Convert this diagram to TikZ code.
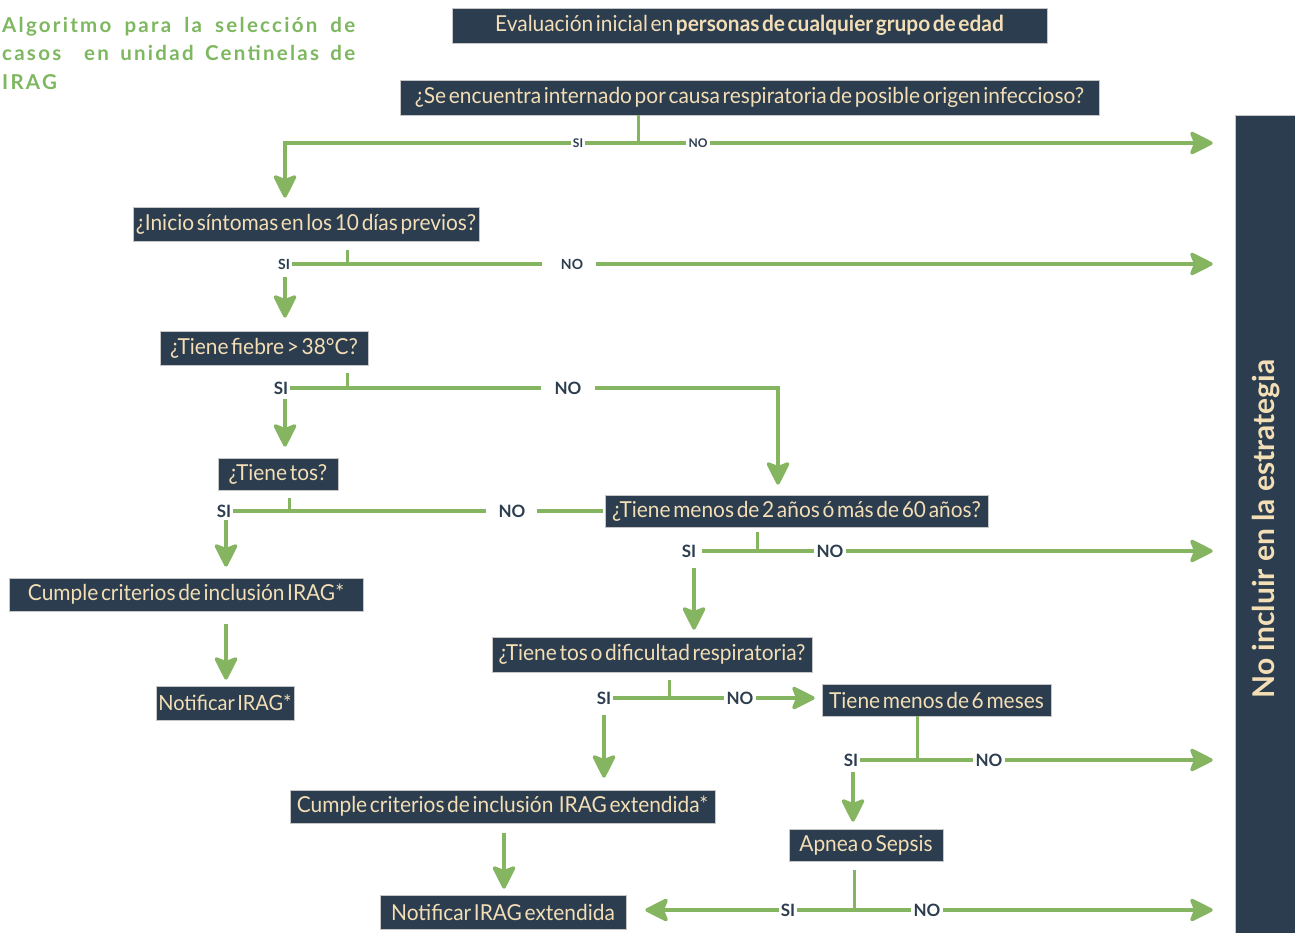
\documentclass[tikz,border=0pt]{standalone}
\usepackage{fontspec}
\setmainfont{Lato}
\newfontfamily\boxfont[FakeStretch=0.95,WordSpace=0.5]{Lato}
\newfontfamily\titlefont[LetterSpace=11,WordSpace=0.7]{Lato}
\usetikzlibrary{arrows.meta}
\definecolor{navy}{RGB}{43,61,78}
\definecolor{cream}{RGB}{243,222,182}
\definecolor{lgreen}{RGB}{134,181,98}
\definecolor{tgreen}{RGB}{125,183,95}
\begin{document}
\begin{tikzpicture}[x=1pt,y=-1pt,
  box/.style={fill=navy, draw=gray!45, line width=0.6pt, text=cream, inner sep=0pt,
    font=\boxfont\fontsize{22}{24}\selectfont},
  lbl/.style={text=navy, inner ysep=1pt, inner xsep=2pt, font=\bfseries\fontsize{17}{19}\selectfont},
  lbls/.style={lbl, font=\bfseries\fontsize{12}{14}\selectfont},
  lblm/.style={lbl, font=\bfseries\fontsize{14}{16}\selectfont},
  ln/.style={draw=lgreen, line width=3.6pt},
  stem/.style={draw=lgreen, line width=3pt},
  arr/.style={ln, -{Stealth[length=26pt,width=26pt,inset=5pt,round]}},
]
\useasboundingbox (0,0) rectangle (1295,933);

% title
\node[anchor=north west, inner sep=0pt, text width=353pt, align=justify, text=tgreen,
  font=\titlefont\bfseries\fontsize{20.5}{28.5}\selectfont] (title) at (2,17)
  {Algoritmo para la selección de\linebreak casos~ en unidad Centinelas de\linebreak IRAG};

% boxes
\node[box, minimum width=595pt, minimum height=35pt] (b0) at (749.5,25.5)
  {Evaluación inicial en \textbf{personas de cualquier grupo de edad}};
\node[box, minimum width=699pt, minimum height=35pt] (q1) at (749.5,97.5)
  {¿Se encuentra internado por causa respiratoria de posible origen infeccioso?};
\node[box, minimum width=346pt, minimum height=34pt] (q2) at (306,224)
  {¿Inicio síntomas en los 10 días previos?};
\node[box, minimum width=208pt, minimum height=34pt] (q3) at (264,348)
  {¿Tiene fiebre > 38°C?};
\node[box, minimum width=120pt, minimum height=32pt] (q4) at (278,474)
  {¿Tiene tos?};
\node[box, minimum width=354pt, minimum height=33pt] (cumple) at (186,594.5)
  {Cumple criterios de inclusión IRAG*};
\node[box, minimum width=138pt, minimum height=34pt, font=\boxfont\fontsize{21}{24}\selectfont] (notif) at (225,703)
  {Notificar IRAG*};
\node[box, minimum width=383pt, minimum height=32pt] (q5) at (796.5,511)
  {¿Tiene menos de 2 años ó más de 60 años?};
\node[box, minimum width=320pt, minimum height=35pt] (q6) at (652,654.5)
  {¿Tiene tos o dificultad respiratoria?};
\node[box, minimum width=229pt, minimum height=32pt] (b6m) at (936.5,700)
  {Tiene menos de 6 meses};
\node[box, minimum width=425pt, minimum height=33pt] (cext) at (502.5,806.5)
  {Cumple criterios de inclusión~ IRAG extendida*};
\node[box, minimum width=246pt, minimum height=34pt] (next) at (503,912)
  {Notificar IRAG extendida};
\node[box, minimum width=154pt, minimum height=32pt] (apnea) at (866,845)
  {Apnea o Sepsis};
\node[box, minimum width=60pt, minimum height=818pt] (bar) at (1265,524) {};
\node[rotate=90, text=cream, inner sep=0pt, font=\bfseries\fontsize{30}{34}\selectfont] (bartext) at (1266,529)
  {No incluir en la estrategia};

% Q1 branch
\coordinate (j1) at (638,143);
\node[lbls] (si1) at (578,143) {SI};
\node[lbls] (no1) at (698,143) {NO};
\draw[stem] (q1.south -| j1) -- (j1);
\draw[ln] (si1.east) -- (no1.west);
\draw[arr, shorten >=9pt] (si1.west) -| (q2.north -| 285,0);
\draw[arr, shorten >=22pt] (no1.east) -- (no1 -| bar.west);

% Q2 branch
\coordinate (j2) at (347,264);
\node[lblm] (si2) at (284,264) {SI};
\node[lblm] (no2) at (572,264) {NO};
\draw[stem, shorten <=9pt] (q2.south -| j2) -- (j2);
\draw[ln, shorten >=17pt] (si2.east) -- (no2.west);
\draw[arr, shorten <=11pt, shorten >=22pt] (no2.east) -- (no2 -| bar.west);
\draw[arr, shorten <=0pt, shorten >=13pt] ([yshift=-7pt]si2.south -| 285,0) -- (q3.north -| 285,0);

% Q3 branch
\coordinate (j3) at (347,388);
\node[lbl] (si3) at (281,388) {SI};
\node[lbl] (no3) at (568,388) {NO};
\draw[stem, shorten <=8pt] (q3.south -| j3) -- (j3);
\draw[ln, shorten >=11pt] (si3.east) -- (no3.west);
\draw[arr, shorten <=11pt, shorten >=10pt] (no3.east) -| (q5.north -| 778,0);
\draw[arr, shorten >=11pt] ([yshift=-4pt]si3.south -| 285,0) -- (q4.north -| 285,0);

% Q4 branch
\coordinate (j4) at (289,511);
\node[lbl] (si4) at (224,511) {SI};
\node[lbl] (no4) at (512,511) {NO};
\draw[stem, shorten <=8pt] (q4.south -| j4) -- (j4);
\draw[ln, shorten >=10pt] (si4.east) -- (no4.west);
\draw[ln, shorten <=9pt, shorten >=2pt] (no4.east) -- (no4 -| q5.west);
\draw[arr, shorten >=11pt] ([yshift=-2pt]si4.south -| 226,0) -- (cumple.north -| 226,0);
\draw[arr, shorten <=13pt, shorten >=6pt] (cumple.south -| 226,0) -- (notif.north -| 226,0);

% Q5 branch
\coordinate (j5) at (757,551);
\node[lbl] (si5) at (689,551) {SI};
\node[lbl] (no5) at (830,551) {NO};
\draw[stem, shorten <=5pt] (q5.south -| j5) -- (j5);
\draw[ln, shorten <=4pt] (si5.east) -- (no5.west);
\draw[arr, shorten >=22pt] (no5.east) -- (no5 -| bar.west);
\draw[arr, shorten >=7pt] ([yshift=-10pt]si5.south -| 694,0) -- (q6.north -| 694,0);

% Q6 branch
\coordinate (j6) at (669,698);
\node[lbl] (si6) at (604,698) {SI};
\node[lbl] (no6) at (740,698) {NO};
\draw[stem, shorten <=8pt] (q6.south -| j6) -- (j6);
\draw[ln] (si6.east) -- (no6.west);
\draw[arr, shorten >=7pt] (no6.east) -- (no6 -| b6m.west);
\draw[arr, shorten >=12pt] ([yshift=-10pt]si6.south) -- (si6 |- cext.north);
\draw[arr, shorten <=10pt, shorten >=6pt] (cext.south -| 504,0) -- (next.north -| 504,0);

% 6 meses branch
\coordinate (j7) at (917,760);
\node[lbl] (si7) at (851,760) {SI};
\node[lbl] (no7) at (989,760) {NO};
\draw[stem] (b6m.south -| j7) -- (j7);
\draw[ln] (si7.east) -- (no7.west);
\draw[arr, shorten >=22pt] (no7.east) -- (no7 -| bar.west);
\draw[arr, shorten >=7pt] ([yshift=-5pt]si7.south -| 853,0) -- (apnea.north -| 853,0);

% Apnea branch
\coordinate (j8) at (854,910);
\node[lbl] (si8) at (788,910) {SI};
\node[lbl] (no8) at (927,910) {NO};
\draw[stem, shorten <=9pt] (apnea.south -| j8) -- (j8);
\draw[ln] (si8.east) -- (no8.west);
\draw[arr, shorten >=19pt] (si8.west) -- (si8 -| next.east);
\draw[arr, shorten >=22pt] (no8.east) -- (no8 -| bar.west);
\end{tikzpicture}
\end{document}
